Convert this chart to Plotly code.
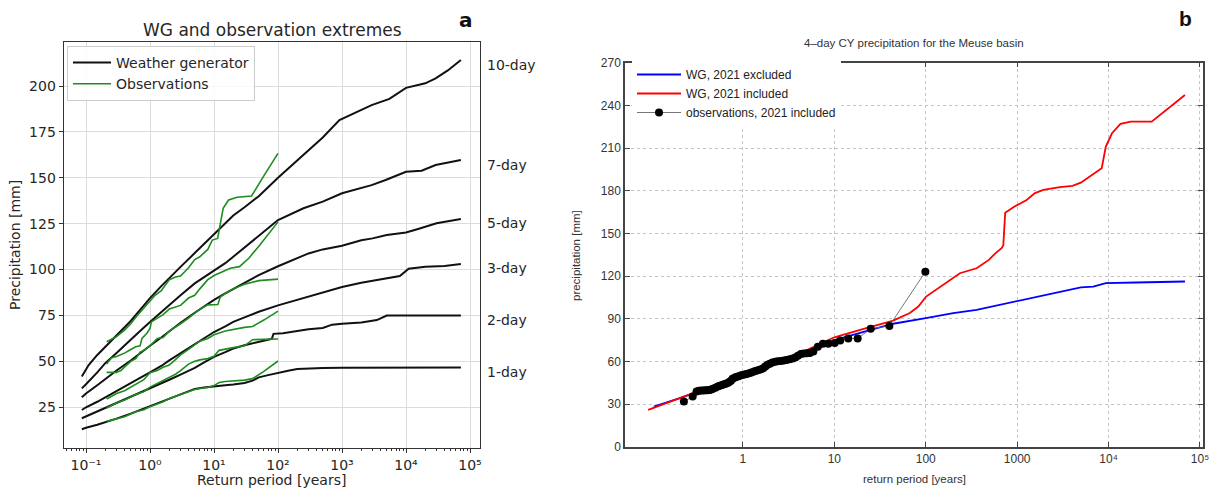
import plotly.graph_objects as go

# ---------------- Panel a: WG and observation extremes ----------------
wg_T_1d = [0.086, 0.1, 0.15, 0.2, 0.3, 0.5, 0.7, 1, 1.5, 2, 3, 5, 7, 10, 15, 20, 30, 40, 50, 70, 100, 150, 200, 300, 500, 1000, 3000, 1e4, 3e4, 7.2e4]
wg_P_1d = [13.0, 13.8, 15.5, 16.8, 18.8, 21.5, 23.5, 25.5, 27.8, 29.8, 32.2, 35.0, 35.8, 36.5, 37.0, 37.4, 38.2, 39.5, 41.3, 42.5, 43.8, 45.0, 45.8, 46.2, 46.4, 46.5, 46.5, 46.6, 46.6, 46.6]

wg_T_2d = [0.086, 0.1, 0.15, 0.2, 0.3, 0.5, 0.7, 1, 1.5, 2, 3, 5, 7, 10, 15, 20, 30, 50, 80, 85, 120, 200, 300, 500, 700, 1000, 2000, 3500, 5000, 1e4, 3e4, 7.2e4]
wg_P_2d = [19.0, 20.0, 22.5, 24.3, 27.0, 30.5, 32.8, 35.3, 38.0, 40.0, 42.8, 46.5, 49.5, 52.5, 55.0, 57.0, 58.8, 60.8, 62.3, 65.0, 65.3, 66.5, 67.5, 68.2, 70.0, 70.5, 71.2, 72.5, 75.0, 75.0, 75.0, 75.0]

wg_T_3d = [0.086, 0.1, 0.15, 0.2, 0.3, 0.5, 0.7, 1, 1.5, 2, 3, 5, 7, 10, 15, 20, 30, 50, 100, 200, 300, 500, 1000, 2000, 3000, 5000, 8000, 1.1e4, 2e4, 4e4, 7.2e4]
wg_P_3d = [23.5, 25.0, 28.0, 30.5, 33.8, 38.0, 41.0, 44.0, 47.5, 50.5, 54.5, 59.5, 62.8, 66.0, 69.0, 71.5, 74.0, 77.0, 80.5, 83.5, 85.5, 87.5, 90.5, 92.8, 94.0, 95.5, 96.5, 100.5, 101.5, 102.0, 103.0]

wg_T_5d = [0.086, 0.1, 0.15, 0.2, 0.3, 0.5, 0.7, 1, 1.5, 2, 3, 5, 7, 10, 15, 20, 30, 50, 100, 200, 300, 500, 1000, 2000, 3000, 5000, 1e4, 1.5e4, 2e4, 3e4, 7.2e4]
wg_P_5d = [30.4, 32.5, 37.0, 40.5, 45.0, 50.5, 54.5, 58.5, 63.0, 66.5, 71.0, 76.5, 80.0, 83.5, 87.0, 89.5, 93.0, 97.0, 101.8, 106.0, 108.8, 111.0, 113.0, 116.0, 117.0, 118.8, 120.2, 122.0, 123.5, 125.2, 127.6]

wg_T_7d = [0.086, 0.1, 0.15, 0.2, 0.3, 0.5, 0.7, 1, 1.5, 2, 3, 5, 7, 10, 15, 20, 30, 50, 100, 250, 500, 1000, 2000, 2900, 4800, 1e4, 1.75e4, 2.9e4, 7.2e4]
wg_P_7d = [35.3, 37.5, 44.0, 49.0, 54.5, 62.0, 66.5, 71.5, 77.0, 81.0, 86.0, 92.5, 96.0, 99.5, 103.5, 107.0, 112.0, 118.5, 127.0, 133.4, 137.0, 141.6, 144.5, 146.0, 148.8, 153.3, 153.9, 157.0, 159.7]

wg_T_10d = [0.086, 0.095, 0.11, 0.15, 0.2, 0.3, 0.5, 0.7, 1, 1.5, 2, 3, 5, 7, 10, 15, 20, 30, 50, 100, 200, 324, 500, 912, 1740, 2900, 5500, 1e4, 2e4, 2.9e4, 4.5e4, 7.2e4]
wg_P_10d = [41.7, 44.5, 48.0, 53.5, 58.0, 64.0, 72.0, 78.0, 84.5, 91.0, 95.5, 101.5, 109.0, 114.0, 119.5, 125.5, 129.5, 134.0, 140.0, 150.0, 159.5, 166.0, 172.0, 181.5, 186.0, 189.6, 193.0, 199.0, 201.5, 204.2, 208.5, 214.2]

obs_T_1d = [0.21, 0.3, 0.4, 0.5, 0.6, 0.8, 1, 1.3, 1.6, 2, 2.5, 3, 4, 5, 6, 8, 10, 12, 15, 20, 30, 40, 60, 100]
obs_P_1d = [17.3, 18.7, 19.8, 21.3, 22.5, 23.6, 25.3, 26.8, 28.0, 29.8, 31.0, 32.2, 33.5, 34.7, 35.2, 35.8, 36.8, 38.5, 39.0, 39.3, 39.8, 40.6, 44.5, 50.2]

obs_T_2d = [0.21, 0.25, 0.3, 0.4, 0.5, 0.6, 0.8, 1, 1.3, 1.6, 2, 2.5, 3, 4, 5, 6, 8, 10, 12, 15, 20, 30, 40, 60, 100]
obs_P_2d = [24.6, 26.0, 27.3, 29.0, 30.8, 32.0, 33.5, 36.0, 38.0, 39.5, 41.5, 43.0, 45.0, 48.5, 50.0, 50.8, 51.5, 52.8, 56.0, 56.8, 57.5, 58.5, 61.8, 62.0, 62.2]

obs_T_3d = [0.21, 0.25, 0.3, 0.4, 0.5, 0.6, 0.8, 1, 1.3, 1.6, 2, 2.5, 3, 4, 5, 6, 8, 10, 15, 20, 30, 40, 60, 100]
obs_P_3d = [29.5, 31.0, 32.5, 34.0, 36.0, 37.8, 40.0, 43.8, 45.0, 46.8, 48.0, 51.0, 53.5, 56.5, 59.0, 61.0, 62.5, 64.5, 66.5, 67.5, 68.5, 69.0, 72.5, 77.4]

obs_T_5d = [0.21, 0.3, 0.35, 0.4, 0.5, 0.6, 0.7, 0.8, 1, 1.3, 1.6, 2, 2.5, 3, 4, 5, 6, 8, 10, 11.5, 12.5, 15, 20, 30, 50, 100]
obs_P_5d = [44.0, 44.0, 45.0, 47.0, 50.0, 51.5, 55.0, 56.0, 58.5, 62.5, 63.0, 66.5, 68.5, 70.5, 73.5, 76.0, 78.5, 80.8, 81.0, 81.0, 85.0, 87.0, 89.5, 92.0, 94.0, 94.8]

obs_T_7d = [0.21, 0.25, 0.3, 0.4, 0.5, 0.6, 0.7, 0.75, 0.9, 1.0, 1.05, 1.3, 1.6, 2, 2.5, 3, 4, 5, 6, 8, 10, 14, 18, 25, 35, 52, 100]
obs_P_7d = [48.5, 52.0, 52.6, 54.5, 56.5, 58.0, 58.5, 62.5, 65.5, 68.0, 71.5, 73.5, 75.5, 78.5, 79.5, 80.5, 84.5, 86.0, 89.5, 94.5, 96.8, 98.9, 100.7, 101.6, 106.2, 113.4, 126.0]

obs_T_10d = [0.21, 0.25, 0.3, 0.4, 0.5, 0.6, 0.8, 1, 1.2, 1.5, 2, 2.5, 3, 4, 5, 6, 8, 9.4, 11.4, 13.9, 16.9, 23, 38.7, 61, 100]
obs_P_10d = [60.7, 62.0, 63.5, 67.0, 70.5, 74.0, 79.0, 82.5, 86.0, 88.5, 94.5, 96.0, 96.5, 101.0, 105.5, 107.0, 111.0, 116.1, 117.0, 133.4, 137.9, 139.4, 140.1, 151.5, 163.3]

duration_labels = ["1-day", "2-day", "3-day", "5-day", "7-day", "10-day"]
label_levels = [44.2, 72.5, 100.9, 125.4, 157.0, 211.4]

a_xticks = [0.1, 1, 10, 100, 1000, 1e4, 1e5]
a_xticktext = ["10\u207b\u00b9", "10\u2070", "10\u00b9", "10\u00b2", "10\u00b3", "10\u2074", "10\u2075"]
a_yticks = [25, 50, 75, 100, 125, 150, 175, 200]

# ---------------- Panel b: 4-day CY precipitation, Meuse ----------------
b_excl_T = [0.106, 0.2, 0.5, 1, 2, 5, 10, 20, 44, 100, 200, 360, 1000, 1740, 2940, 4970, 6800, 9330, 2e4, 68500]
b_excl_P = [28.3, 34.0, 43.0, 50.0, 57.5, 67.0, 75.0, 80.5, 86.5, 90.4, 94.0, 96.3, 102.6, 106.0, 109.1, 112.0, 112.6, 115.0, 115.5, 116.2]

b_incl_T = [0.092, 0.2, 0.5, 1, 2, 5, 10, 20, 44, 67, 83, 101, 156, 236, 360, 490, 577, 675, 705, 725, 740, 927, 1270, 1565, 1930, 2940, 4030, 4970, 6130, 8410, 9330, 10900, 13500, 17500, 29600, 68500]
b_incl_P = [26.0, 34.0, 43.5, 50.5, 58.0, 68.0, 77.0, 82.5, 88.7, 94.0, 98.6, 105.6, 113.8, 122.0, 125.5, 131.4, 136.0, 139.6, 141.5, 160.0, 164.5, 168.8, 173.5, 178.3, 180.6, 182.5, 183.4, 185.7, 189.5, 195.8, 211.0, 220.4, 227.0, 228.6, 228.6, 247.3]

b_obs_T = [0.226, 0.282, 0.311, 0.33, 0.35, 0.37, 0.39, 0.41, 0.43, 0.45, 0.47, 0.50, 0.53, 0.56, 0.59, 0.62,
           0.65, 0.68, 0.71, 0.74, 0.77, 0.80, 0.84, 0.88, 0.93, 0.98, 1.04, 1.10, 1.17, 1.24, 1.32, 1.40,
           1.49, 1.58, 1.67, 1.76, 1.86, 1.97, 2.1, 2.25, 2.4, 2.6, 2.8, 3.0, 3.25, 3.5, 3.75, 4.0, 4.3,
           4.6, 5.0, 5.4, 5.9, 6.6, 7.5, 8.6, 10.1, 11.6, 14.2, 18.0, 25.0, 40.0, 99.0]
b_obs_P = [31.8, 35.3, 38.9, 39.4, 39.5, 39.6, 39.7, 39.8, 40.0, 40.3, 40.8, 41.5, 42.3, 42.9, 43.5, 44.0,
           44.3, 44.8, 45.5, 46.5, 47.8, 48.4, 49.0, 49.5, 50.0, 50.4, 50.8, 51.2, 51.7, 52.3, 52.9, 53.4,
           54.0, 54.6, 55.3, 56.5, 57.6, 58.4, 59.2, 59.8, 60.1, 60.4, 60.7, 61.0, 61.5, 62.0, 62.8, 64.0, 65.3,
           65.5, 65.8, 66.0, 67.0, 70.3, 72.4, 72.4, 72.9, 74.7, 76.2, 76.2, 82.9, 85.0, 123.0]

b_xticks = [1, 10, 100, 1000, 1e4, 1e5]
b_xticktext = ["1", "10", "100", "1000", "10\u2074", "10\u2075"]
b_yticks = [0, 30, 60, 90, 120, 150, 180, 210, 240, 270]

W, H = 1214, 491
FA = "DejaVu Sans"
FB = "Liberation Sans"

fig = go.Figure()

wg_sets = [(wg_T_1d, wg_P_1d), (wg_T_2d, wg_P_2d), (wg_T_3d, wg_P_3d),
           (wg_T_5d, wg_P_5d), (wg_T_7d, wg_P_7d), (wg_T_10d, wg_P_10d)]
obs_sets = [(obs_T_1d, obs_P_1d), (obs_T_2d, obs_P_2d), (obs_T_3d, obs_P_3d),
            (obs_T_5d, obs_P_5d), (obs_T_7d, obs_P_7d), (obs_T_10d, obs_P_10d)]

for i, (t, p) in enumerate(wg_sets):
    fig.add_trace(go.Scatter(x=t, y=p, mode="lines", line=dict(color="#111111", width=2),
                             name="Weather generator", showlegend=(i == 0), legendgroup="wg",
                             xaxis="x", yaxis="y", legend="legend"))
for i, (t, p) in enumerate(obs_sets):
    fig.add_trace(go.Scatter(x=t, y=p, mode="lines", line=dict(color="#1e8c1e", width=1.6),
                             name="Observations", showlegend=(i == 0), legendgroup="obs",
                             xaxis="x", yaxis="y", legend="legend"))

fig.add_trace(go.Scatter(x=b_excl_T, y=b_excl_P, mode="lines", line=dict(color="#0000ff", width=1.8),
                         name="WG, 2021 excluded", xaxis="x2", yaxis="y2", legend="legend2"))
fig.add_trace(go.Scatter(x=b_incl_T, y=b_incl_P, mode="lines", line=dict(color="#ff0000", width=1.8),
                         name="WG, 2021 included", xaxis="x2", yaxis="y2", legend="legend2"))
fig.add_trace(go.Scatter(x=b_obs_T, y=b_obs_P, mode="lines+markers",
                         line=dict(color="#666666", width=0.9),
                         marker=dict(color="black", size=8),
                         name="observations, 2021 included", xaxis="x2", yaxis="y2", legend="legend2"))

a_minor = [m * 10 ** e for e in range(-2, 5) for m in range(2, 10)]

ann = []
for lab, lev in zip(duration_labels, label_levels):
    ann.append(dict(text=lab, x=485 / W, xref="paper", xanchor="left", y=lev, yref="y",
                    yanchor="middle", showarrow=False, font=dict(family=FA, size=14, color="#262626")))

def pann(text, x, y, size, family, color="#262626", angle=0, bold=False):
    t = f"<b>{text}</b>" if bold else text
    return dict(text=t, x=x / W, y=1 - y / H, xref="paper", yref="paper", xanchor="center",
                yanchor="middle", showarrow=False, textangle=angle,
                font=dict(family=family, size=size, color=color))

ann += [
    pann("WG and observation extremes", 272, 30, 17, FA),
    pann("a", 466, 20, 20, FA, color="#111111", bold=True),
    pann("Precipitation [mm]", 15, 245, 14, FA, angle=-90),
    pann("Return period [years]", 271, 480, 14, FA),
    pann("4\u2013day CY precipitation for the Meuse basin", 914, 43, 11.5, FB, color="#333333"),
    pann("b", 1185, 19, 21, FB, color="#111111", bold=True),
    pann("precipitation [mm]", 576, 256, 11.5, FB, color="#333333", angle=-90),
    pann("return period [years]", 914, 479, 11.5, FB, color="#333333"),
]

common_a = dict(ticks="outside", ticklen=4, tickwidth=1, tickcolor="#333333",
                showline=True, linecolor="#333333", linewidth=1, mirror=True,
                showgrid=True, gridcolor="#dcdcdc", gridwidth=1.2, zeroline=False, automargin=False,
                tickfont=dict(family=FA, size=14, color="#262626"))
common_b = dict(ticks="inside", ticklen=5, tickwidth=1, tickcolor="#444444",
                showline=True, linecolor="#444444", linewidth=1.5, mirror="ticks",
                showgrid=True, gridcolor="#c4c4c4", gridwidth=1, griddash="dot", zeroline=False,
                automargin=False, tickfont=dict(family=FB, size=12, color="#333333"))

fig.update_layout(
    template="none",
    width=W, height=H, margin=dict(l=0, r=0, t=0, b=0, autoexpand=False),
    paper_bgcolor="white", plot_bgcolor="white",
    annotations=ann,
    xaxis=dict(type="log", domain=[63.6 / W, 480 / W], range=[-1.35, 5.156], anchor="y",
               tickmode="array", tickvals=a_xticks, ticktext=a_xticktext,
               minor=dict(tickvals=a_minor, ticks="outside", ticklen=2, tickcolor="#333333", showgrid=False),
               **common_a),
    yaxis=dict(domain=[1 - 448 / H, 1 - 42 / H], range=[2.8, 224], anchor="x",
               tickmode="array", tickvals=a_yticks, **common_a),
    xaxis2=dict(type="log", domain=[625 / W, 1203 / W], range=[-1.29, 5.033], anchor="y2",
                tickmode="array", tickvals=b_xticks, ticktext=b_xticktext, **common_b),
    yaxis2=dict(domain=[1 - 446.8 / H, 1 - 62.7 / H], range=[0, 270], anchor="x2",
                tickmode="array", tickvals=b_yticks, **common_b),
    legend=dict(x=67 / W, y=1 - 46 / H, xanchor="left", yanchor="top", itemwidth=38,
                bgcolor="rgba(255,255,255,0.85)", bordercolor="#cccccc", borderwidth=1,
                font=dict(family=FA, size=14, color="#262626"), tracegroupgap=0),
    legend2=dict(x=632 / W, y=1 - 60 / H, xanchor="left", yanchor="top", itemwidth=44,
                 bgcolor="white", borderwidth=0,
                 font=dict(family=FB, size=12, color="#222222"), tracegroupgap=0),
)

fig.write_html("out.html")
